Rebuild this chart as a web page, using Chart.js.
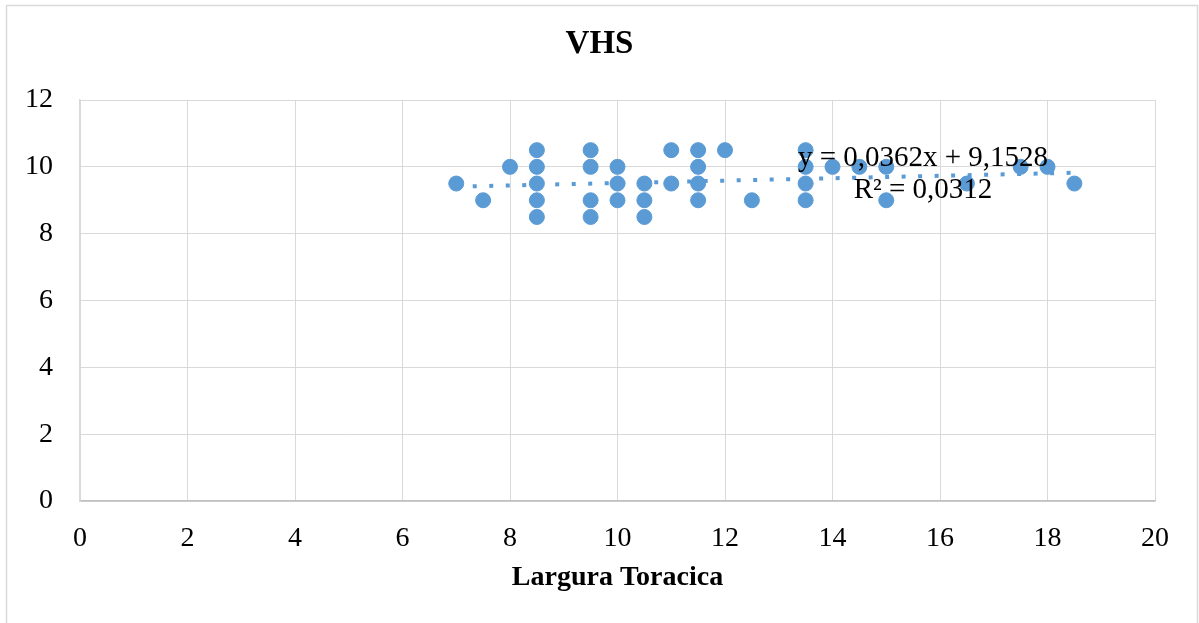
<!DOCTYPE html>
<html>
<head>
<meta charset="utf-8">
<title>VHS</title>
<script src="https://cdn.jsdelivr.net/npm/chart.js@4/dist/chart.umd.min.js"></script>
<style>
    html, body { margin: 0; padding: 0; background: #ffffff; }
    #wrap { width: 1199px; height: 623px; }
</style>
</head>
<body>
<div id="wrap"><canvas id="vhsChart" width="1199" height="623"></canvas></div>
<script>
// ===================================
// DATA
// ===================================

// Largura Toracica (x values)
const LARGURA = [7, 7.5, 8, 8.5, 8.5, 8.5, 8.5, 8.5, 9.5, 9.5, 9.5, 9.5,
    10, 10, 10, 10.5, 10.5, 10.5, 11, 11, 11.5, 11.5, 11.5, 11.5,
    12, 12.5, 13.5, 13.5, 13.5, 13.5, 14, 14.5, 15, 15, 16.5, 17.5, 18, 18.5];

// VHS (y values)
const VHS = [9.5, 9, 10, 10.5, 10, 9.5, 9, 8.5, 10.5, 10, 9, 8.5,
    10, 9.5, 9, 9.5, 9, 8.5, 10.5, 9.5, 10.5, 10, 9.5, 9,
    10.5, 9, 10.5, 10, 9.5, 9, 10, 10, 10, 9, 9.5, 10, 10, 9.5];

// Axis ticks
const X_TICKS = [0, 2, 4, 6, 8, 10, 12, 14, 16, 18, 20];
const Y_TICKS = [0, 2, 4, 6, 8, 10, 12];

// Linear trendline shown on the chart
const TREND_SLOPE = 0.0362;
const TREND_INTERCEPT = 9.1528;
const TREND_LABELS = ['y = 0,0362x + 9,1528', 'R² = 0,0312'];

const BLUE = '#5b9bd5';
const GRID = '#d9d9d9';
const FONT = "'Liberation Serif', 'Times New Roman', serif";

// build point lists for chart.js
const points = LARGURA.map(function (x, i) { return { x: x, y: VHS[i] }; });
const xMin = Math.min.apply(null, LARGURA);
const xMax = Math.max.apply(null, LARGURA);
const trendPoints = [
    { x: xMin, y: TREND_INTERCEPT + TREND_SLOPE * xMin },
    { x: xMax, y: TREND_INTERCEPT + TREND_SLOPE * xMax }
];

// white background + outer chart border
const framePlugin = {
    id: 'frame',
    beforeDraw: function (chart) {
        const ctx = chart.ctx;
        ctx.save();
        ctx.fillStyle = '#ffffff';
        ctx.fillRect(0, 0, chart.width, chart.height);
        ctx.strokeStyle = GRID;
        ctx.lineWidth = 1.5;
        ctx.strokeRect(6.5, 5.5, 1191, 700);
        ctx.restore();
    }
};

// trendline equation text
const equationPlugin = {
    id: 'equation',
    afterDatasetsDraw: function (chart) {
        const ctx = chart.ctx;
        const area = chart.chartArea;
        ctx.save();
        ctx.fillStyle = '#000000';
        ctx.font = '29px ' + FONT;
        ctx.textAlign = 'center';
        ctx.textBaseline = 'middle';
        ctx.fillText(TREND_LABELS[0], area.left + 843, area.top + 58);
        ctx.fillText(TREND_LABELS[1], area.left + 843, area.top + 90);
        ctx.restore();
    }
};

new Chart(document.getElementById('vhsChart').getContext('2d'), {
    type: 'scatter',
    data: {
        datasets: [{
            label: 'Linear',
            type: 'line',
            data: trendPoints,
            borderColor: BLUE,
            borderWidth: 4,
            borderDash: [4, 12.5],
            borderCapStyle: 'butt',
            pointRadius: 0,
            fill: false,
            order: 0
        }, {
            label: 'VHS',
            data: points,
            backgroundColor: BLUE,
            borderColor: BLUE,
            pointRadius: 7.5,
            pointHoverRadius: 7.5,
            order: 1
        }]
    },
    options: {
        responsive: false,
        animation: false,
        events: [],
        layout: {
            padding: 0
        },
        plugins: {
            legend: { display: false },
            tooltip: { enabled: false },
            title: {
                display: true,
                text: 'VHS',
                color: '#000000',
                font: { family: FONT, size: 33, weight: 'bold', lineHeight: 1.2 },
                padding: { top: 25, bottom: 35.4 }
            }
        },
        scales: {
            x: {
                type: 'linear',
                min: 0,
                max: 20,
                afterBuildTicks: function (scale) {
                    scale.ticks = X_TICKS.map(function (v) { return { value: v }; });
                },
                afterFit: function (scale) { scale.height = 122; },
                ticks: {
                    color: '#000000',
                    font: { family: FONT, size: 28 },
                    padding: 21,
                    autoSkip: false,
                    maxRotation: 0
                },
                grid: { color: GRID, lineWidth: 1, drawTicks: false },
                border: { color: '#bfbfbf', width: 1.5 },
                title: {
                    display: true,
                    text: 'Largura Toracica',
                    color: '#000000',
                    font: { family: FONT, size: 28, weight: 'bold', lineHeight: 1.2 },
                    padding: { top: 0, bottom: 28 }
                }
            },
            y: {
                type: 'linear',
                min: 0,
                max: 12,
                afterBuildTicks: function (scale) {
                    scale.ticks = Y_TICKS.map(function (v) { return { value: v }; });
                },
                afterFit: function (scale) { scale.width = 80; },
                ticks: {
                    color: '#000000',
                    font: { family: FONT, size: 28 },
                    padding: 27
                },
                grid: { color: GRID, lineWidth: 1, drawTicks: false },
                border: { color: GRID, width: 1.5 }
            },
            // empty right-hand axis, only keeps the right margin of the plot
            yRight: {
                type: 'linear',
                position: 'right',
                min: 0,
                max: 12,
                afterFit: function (scale) { scale.width = 44; },
                ticks: { display: false },
                grid: { display: false, drawTicks: false },
                border: { display: false }
            }
        }
    },
    plugins: [framePlugin, equationPlugin]
});
</script>
</body>
</html>
